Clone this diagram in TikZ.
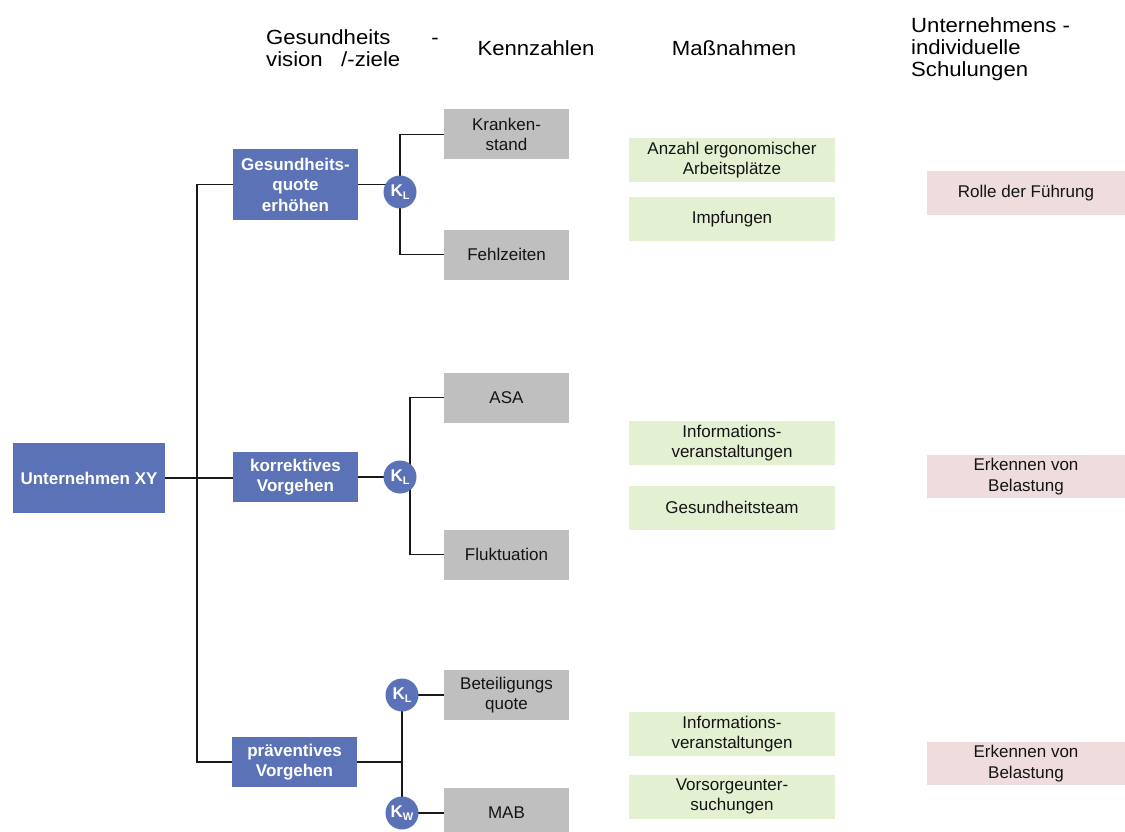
\documentclass[tikz,border=0pt]{standalone}
\usepackage{fontspec}
\setmainfont{Liberation Sans}
\newfontfamily\hdrfont[FakeStretch=1.08]{Liberation Sans}
\definecolor{bluebox}{RGB}{92,114,182}
\definecolor{graybox}{RGB}{191,191,191}
\definecolor{greenbox}{RGB}{227,240,210}
\definecolor{pinkbox}{RGB}{239,221,221}
\definecolor{txt}{RGB}{20,20,20}
\pgfdeclarelayer{bg}
\pgfsetlayers{bg,main}
\tikzset{
  base/.style={inner sep=0pt, align=center, font=\fontsize{17}{20.5}\selectfont, text=txt},
  bluebx/.style={base, fill=bluebox, text=white, font=\fontsize{17}{20.5}\selectfont\bfseries, minimum width=125, minimum height=50},
  graybx/.style={base, fill=graybox, minimum width=125, minimum height=50},
  greenbx/.style={base, fill=greenbox, minimum width=206, minimum height=44},
  pinkbx/.style={base, fill=pinkbox, minimum width=198, minimum height=43},
  kcirc/.style={circle, fill=bluebox, text=white, inner sep=0pt, minimum size=33, font=\fontsize{17}{17}\selectfont\bfseries},
  hdr/.style={inner sep=0pt, align=left, font=\hdrfont\fontsize{20.5}{22}\selectfont, text=black},
  conn/.style={draw=black!90, line width=1.6pt}
}
\begin{document}
\begin{tikzpicture}[x=1pt,y=-1pt]
\useasboundingbox (0,0) rectangle (1125,832);
% headers
\node[hdr, anchor=north west] (h1) at (266,29) {Gesundheits\hspace*{2.0em}-\\vision\ \ \ /-ziele};
\node[hdr] (h2) at (536,48) {Kennzahlen};
\node[hdr] (h3) at (734,48) {Maßnahmen};
\node[hdr, anchor=north west] (h4) at (911,17) {Unternehmens -\\individuelle\\Schulungen};
% main nodes
\node[bluebx, minimum width=152, minimum height=70, font=\fontsize{17}{20}\selectfont\bfseries] (xy) at (89,478) {Unternehmen XY};
\node[bluebx, minimum height=71] (gq) at (295.5,184.5) {Gesundheits-\\quote\\erhöhen};
\node[bluebx] (korr) at (295.5,477) {korrektives\\Vorgehen};
\node[bluebx] (prae) at (294.5,762) {präventives\\Vorgehen};
% circles
\node[kcirc] (k1) at (400,192) {K\raisebox{-0.35ex}{\fontsize{11}{11}\selectfont L}};
\node[kcirc] (k2) at (400,477) {K\raisebox{-0.35ex}{\fontsize{11}{11}\selectfont L}};
\node[kcirc] (k3) at (402,695) {K\raisebox{-0.35ex}{\fontsize{11}{11}\selectfont L}};
\node[kcirc] (k4) at (402,813) {K\raisebox{-0.35ex}{\fontsize{11}{11}\selectfont W}};
% Kennzahlen
\node[graybx] (kst) at (506.5,134.5) {Kranken-\\stand};
\node[graybx] (fz) at (506.5,254.5) {Fehlzeiten};
\node[graybx] (asa) at (506.5,397.5) {ASA};
\node[graybx] (fluk) at (506.5,554.5) {Fluktuation};
\node[graybx] (bq) at (506.5,695) {Beteiligungs\\quote};
\node[graybx] (mab) at (506.5,813) {MAB};
% Massnahmen
\node[greenbx] (m1) at (732,160) {Anzahl ergonomischer\\Arbeitsplätze};
\node[greenbx] (m2) at (732,219) {Impfungen};
\node[greenbx] (m3) at (732,443) {Informations-\\veranstaltungen};
\node[greenbx] (m4) at (732,507.5) {Gesundheitsteam};
\node[greenbx] (m5) at (732,734) {Informations-\\veranstaltungen};
\node[greenbx] (m6) at (732,796.5) {Vorsorgeunter-\\suchungen};
% Schulungen
\node[pinkbx] (s1) at (1026,193) {Rolle der Führung};
\node[pinkbx] (s2) at (1026,476.5) {Erkennen von\\Belastung};
\node[pinkbx] (s3) at (1026,763.5) {Erkennen von\\Belastung};
% connectors
\begin{pgfonlayer}{bg}
\draw[conn] (xy.east) -- (korr.west |- xy.east);
\draw[conn] (gq.west) -- ++(-36,0) |- (prae.west);
\draw[conn] (gq.east) -- (gq.east -| k1.center);
\draw[conn] (kst.west) -| (k1.center) |- (fz.west);
\draw[conn] (korr.east) -- (korr.east -| k2.center);
\draw[conn] (asa.west) -| ([xshift=10]k2.center) |- (fluk.west);
\draw[conn] (prae.east) -- (prae.east -| k3.center);
\draw[conn] (k3.center) -- (k4.center);
\draw[conn] (k3.center) -- (bq.west);
\draw[conn] (k4.center) -- (mab.west);
\end{pgfonlayer}
\end{tikzpicture}
\end{document}
